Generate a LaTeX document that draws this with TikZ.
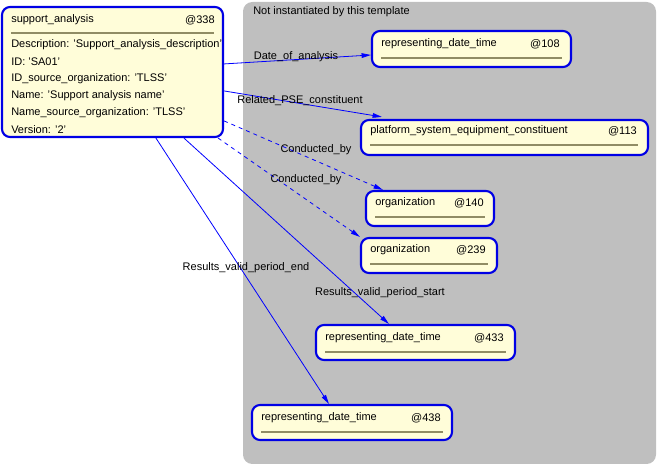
\documentclass[tikz,border=0pt]{standalone}
\usepackage{fontspec}
\setmainfont{Liberation Sans}
\usetikzlibrary{calc,arrows.meta}
\begin{document}
\begin{tikzpicture}[x=0.75pt,y=-0.75pt,
  box/.style={draw=blue!90!black,line width=1.6pt,fill=yellow!15,rounded corners=6pt,inner sep=0pt},
  txt/.style={font=\fontsize{8.25pt}{10pt}\selectfont,inner sep=0pt,anchor=west},
  rule/.style={draw=black!50!yellow!60!gray,line width=1.2pt},
  lbl/.style={font=\fontsize{8.25pt}{10pt}\selectfont,inner sep=1pt},
  rel/.style={draw=blue,line width=0.6pt,-{Triangle[length=7pt,width=3.5pt]}}]
\useasboundingbox (0,0) rectangle (658,466);
\fill[black!25,rounded corners=7pt] (243,2) rectangle (656,464);
\node[txt] (nt) at (253,12) {Not instantiated by this template};
% main
\node[box,minimum width=221*0.75pt,minimum height=130*0.75pt] (main) at (112.5,72) {};
\node[txt] at (11,20) {support\_analysis};
\node[txt,anchor=east] at (215,20) {@338};
\draw[rule] (11,33) -- (214,33);
\foreach \t [count=\i] in {Description: 'Support\_analysis\_description',ID: 'SA01',ID\_source\_organization: 'TLSS',Name: 'Support analysis name',Name\_source\_organization: 'TLSS',Version: '2'}
  \node[txt] at (11,{28+17*\i}) {\t};
% other nodes
\node[box,minimum width=199*0.75pt,minimum height=36*0.75pt] (a) at (471.5,49) {};
\node[txt] at (381,44) {representing\_date\_time};
\node[txt,anchor=east] at (560,44) {@108};
\draw[rule] (381,58) -- (562,58);
\node[box,minimum width=287*0.75pt,minimum height=35*0.75pt] (b) at (504.5,137.5) {};
\node[txt] at (370,131) {platform\_system\_equipment\_constituent};
\node[txt,anchor=east] at (637,131) {@113};
\draw[rule] (370,145) -- (638,145);
\node[box,minimum width=128*0.75pt,minimum height=35*0.75pt] (c) at (430,208.5) {};
\node[txt] at (375,203) {organization};
\node[txt,anchor=east] at (484,203) {@140};
\draw[rule] (375,217) -- (485,217);
\node[box,minimum width=136*0.75pt,minimum height=35*0.75pt] (d) at (429,255.5) {};
\node[txt] at (370,250) {organization};
\node[txt,anchor=east] at (486,250) {@239};
\draw[rule] (370,264) -- (488,264);
\node[box,minimum width=199*0.75pt,minimum height=35*0.75pt] (e) at (415.5,342.5) {};
\node[txt] at (325,338) {representing\_date\_time};
\node[txt,anchor=east] at (504,338) {@433};
\draw[rule] (325,352) -- (506,352);
\node[box,minimum width=200*0.75pt,minimum height=35*0.75pt] (f) at (352,422.5) {};
\node[txt] at (261,418) {representing\_date\_time};
\node[txt,anchor=east] at (441,418) {@438};
\draw[rule] (261,432) -- (443,432);
% connectors
\draw[rel] ($(main.north east)+(0,58)$) -- ($(a.west)+(0,6)$);
\node[lbl] at (296,57) {Date\_of\_analysis};
\draw[rel] ($(main.north east)+(0,85)$) -- ($(b.north west)+(22,-2)$);
\node[lbl] at (300,101) {Related\_PSE\_constituent};
\draw[rel,dashed] ($(main.north east)+(0,115)$) -- ($(c.north west)+(18,0)$);
\node[lbl] at (316,150) {Conducted\_by};
\draw[rel,dashed] ($(main.south east)+(-6,0)$) -- (d.north west);
\node[lbl] at (306,180) {Conducted\_by};
\draw[rel] ($(main.south west)+(183,0)$) -- ($(e.north west)+(74,0)$);
\node[lbl] at (380,293) {Results\_valid\_period\_start};
\draw[rel] ($(main.south west)+(155,0)$) -- ($(f.north west)+(78,0)$);
\node[lbl] at (246,268) {Results\_valid\_period\_end};
\end{tikzpicture}
\end{document}
